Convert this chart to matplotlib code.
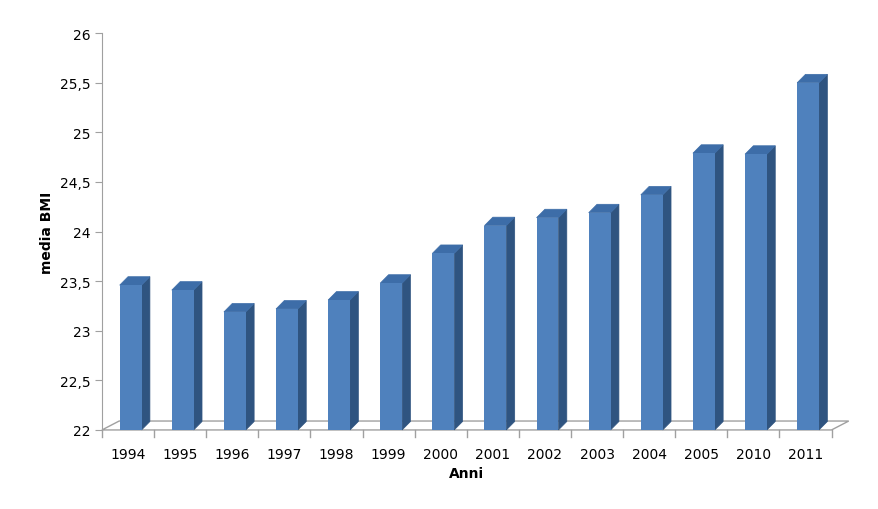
import matplotlib
matplotlib.use("Agg")
import matplotlib.pyplot as plt
from matplotlib.patches import Polygon

years = ["1994","1995","1996","1997","1998","1999","2000","2001","2002","2003","2004","2005","2010","2011"]
bmi = [23.46, 23.41, 23.19, 23.22, 23.31, 23.48, 23.78, 24.06, 24.14, 24.19, 24.37, 24.79, 24.78, 25.50]

fig = plt.figure(figsize=(8.79, 5.10), dpi=100)
ax = fig.add_axes([0.116, 0.155, 0.830, 0.778])
ymin, ymax = 22, 26
ax.set_xlim(-0.5, len(years) - 0.5)
ax.set_ylim(ymin, ymax)

dx, dy = 0.16, 0.085
w = 0.42
front, side, top = "#4F81BD", "#2F5480", "#3D6DA8"

# floor
ax.add_patch(Polygon([(-0.5, ymin), (len(years) - 0.5, ymin),
                      (len(years) - 0.5 + 0.33, ymin + 0.09), (-0.5 + 0.33, ymin + 0.09)],
                     closed=True, fc="white", ec="#A0A0A0", lw=1, clip_on=False, zorder=1))

for i, v in enumerate(bmi):
    x0, x1 = i - w / 2 + 0.05, i + w / 2 + 0.05
    ax.add_patch(Polygon([(x1, ymin), (x1 + dx, ymin + dy), (x1 + dx, v + dy), (x1, v)],
                         closed=True, fc=side, ec=side, lw=0.5, clip_on=False, zorder=2))
    ax.add_patch(Polygon([(x0, v), (x1, v), (x1 + dx, v + dy), (x0 + dx, v + dy)],
                         closed=True, fc=top, ec=top, lw=0.5, clip_on=False, zorder=2))
    ax.bar(i + 0.05, v - ymin, bottom=ymin, width=w, color=front, zorder=3)

for s in ["top", "right", "bottom"]:
    ax.spines[s].set_visible(False)
ax.spines["left"].set_color("#A0A0A0")
yt = [22 + 0.5 * k for k in range(9)]
ax.set_yticks(yt)
ax.set_yticklabels([f"{t:g}".replace(".", ",") for t in yt], fontsize=10)
ax.tick_params(axis="y", direction="out", length=5, color="#A0A0A0")
ax.set_xticks(range(len(years)))
ax.set_xticklabels(years, fontsize=10)
ax.tick_params(axis="x", length=0, pad=12)
for k in range(len(years) + 1):
    ax.plot([k - 0.5, k - 0.5], [ymin, ymin - 0.07], color="#A0A0A0", lw=1, clip_on=False)
ax.set_xlabel("Anni", fontsize=10, fontweight="bold")
ax.set_ylabel("media BMI", fontsize=10, fontweight="bold")
fig.savefig("out.png", dpi=100)
